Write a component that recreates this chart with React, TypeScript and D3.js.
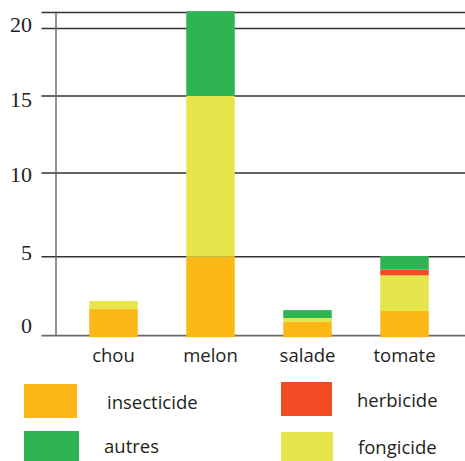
import React from "react";
import * as d3 from "d3";

const categories = ["chou", "melon", "salade", "tomate"];
const seriesKeys = ["insecticide", "fongicide", "herbicide", "autres"];
const insecticide = [1.7, 5.0, 0.87, 1.56];
const fongicide = [0.5, 10.0, 0.25, 2.26];
const herbicide = [0, 0, 0, 0.36];
const autres = [0, 6.3, 0.5, 0.86];
const yTicks = [0, 5, 10, 15, 20];
const legendItems = ["insecticide", "herbicide", "autres", "fongicide"];

const colors: Record<string, string> = {
  insecticide: "#FBB817",
  fongicide: "#E5E64C",
  herbicide: "#F04B23",
  autres: "#2FB454",
};

export default function App() {
  const W = 465;
  const H = 461;
  const rows = categories.map((c, i) => ({
    cat: c,
    insecticide: insecticide[i],
    fongicide: fongicide[i],
    herbicide: herbicide[i],
    autres: autres[i],
  }));
  const stacked = d3.stack<any>().keys(seriesKeys)(rows);

  // hand-drawn (non-uniform) axis, reproduced with a piecewise linear scale
  const y = d3
    .scaleLinear()
    .domain([0, 5, 10, 15, 20, 21.2])
    .range([335.7, 256.7, 173, 96, 28.5, 12.5]);
  const x = d3
    .scaleBand<string>()
    .domain(categories)
    .range([65, 453])
    .paddingInner(0.5)
    .paddingOuter(0.25);

  const labelNudge = [-10, -4.7, 1.7, 3.5, -4];
  const sans = "'Open Sans', sans-serif";

  // legend layout: two columns x two rows
  const legendPos = [
    { sx: 24, sy: 384, sw: 53, sh: 34, tx: 107, ty: 409 },
    { sx: 281, sy: 382, sw: 51, sh: 34, tx: 357, ty: 407 },
    { sx: 24, sy: 431, sw: 55, sh: 30, tx: 104, ty: 453 },
    { sx: 281, sy: 432, sw: 52, sh: 29, tx: 358, ty: 454 },
  ];

  return (
    <svg
      width={W}
      height={H}
      style={{ position: "absolute", left: 0, top: 0, background: "#fff" }}
    >
      {/* top frame line */}
      <line x1={41.5} x2={W} y1={y(21.2)} y2={y(21.2)} stroke="#333" strokeWidth={1.4} />
      {yTicks.map((t, i) => (
        <g key={t}>
          <line
            x1={41.5}
            x2={W}
            y1={y(t)}
            y2={y(t)}
            stroke={t === 0 ? "#6a6a6a" : "#333"}
            strokeWidth={t === 0 ? 1.8 : 1.4}
          />
          <text
            x={32}
            y={y(t) + labelNudge[i]}
            textAnchor="end"
            dominantBaseline="central"
            fontFamily="'Liberation Serif', serif"
            fontSize={22}
            fill="#222"
          >
            {t}
          </text>
        </g>
      ))}
      <line x1={56} x2={56} y1={y(21.2) - 1} y2={y(0)} stroke="#666" strokeWidth={1.4} />

      {stacked.map((s) => (
        <g key={s.key} fill={colors[s.key]}>
          {s.map((d, i) =>
            d[1] - d[0] > 0 ? (
              <rect
                key={i}
                x={x(categories[i])}
                width={x.bandwidth()}
                y={y(d[1])}
                height={y(d[0]) - y(d[1]) + (d[0] === 0 ? 1.5 : 0)}
              />
            ) : null
          )}
        </g>
      ))}

      {categories.map((c) => (
        <text
          key={c}
          x={(x(c) as number) + x.bandwidth() / 2}
          y={362}
          textAnchor="middle"
          fontFamily={sans}
          fontSize={18.5}
          fill="#231f20"
        >
          {c}
        </text>
      ))}

      {legendItems.map((k, i) => {
        const p = legendPos[i];
        return (
          <g key={k}>
            <rect x={p.sx} y={p.sy} width={p.sw} height={p.sh} fill={colors[k]} />
            <text x={p.tx} y={p.ty} fontFamily={sans} fontSize={18.5} fill="#231f20">
              {k}
            </text>
          </g>
        );
      })}
    </svg>
  );
}
